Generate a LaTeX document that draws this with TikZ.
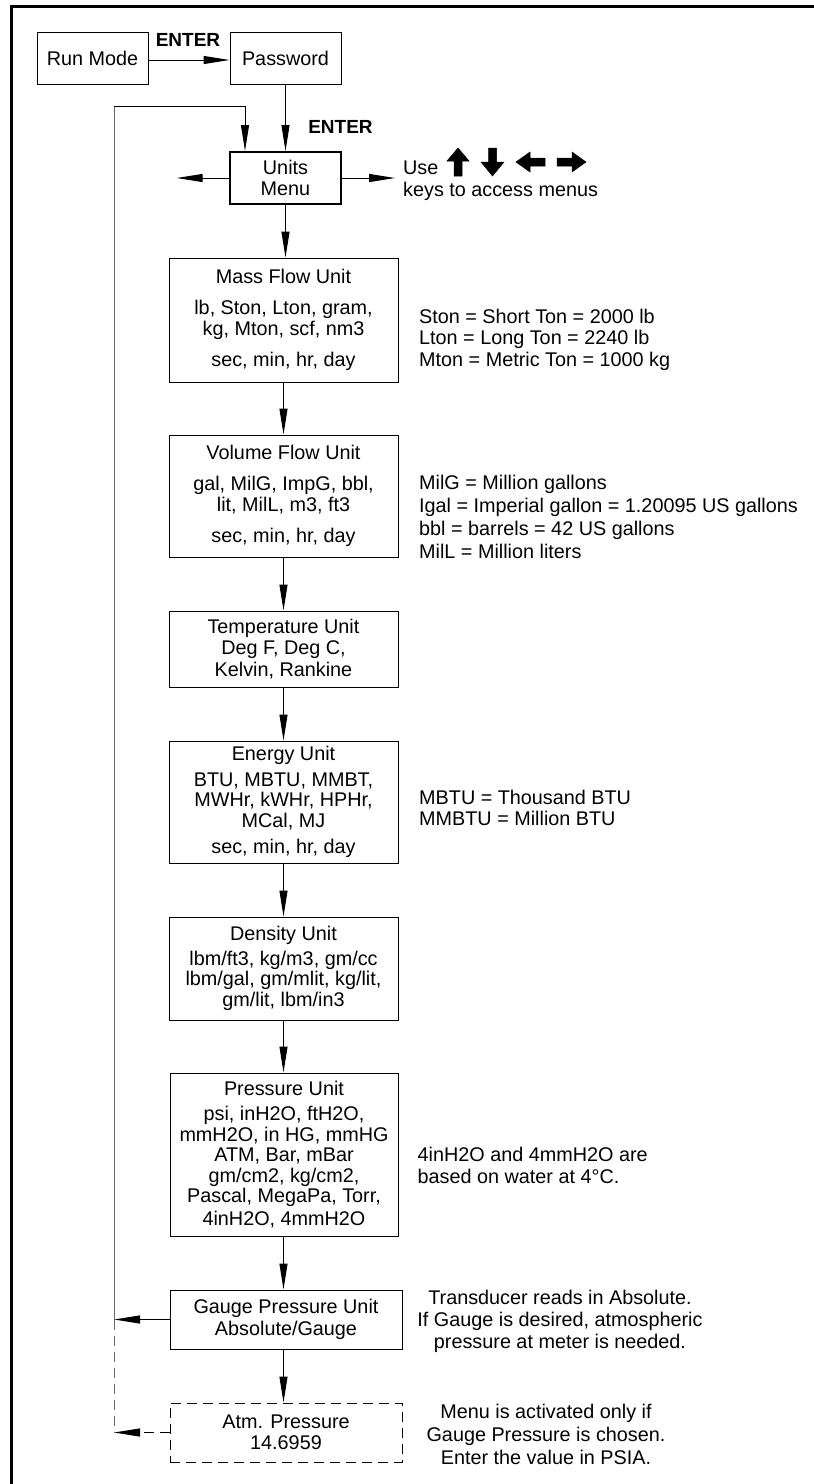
\documentclass[tikz,border=0pt]{standalone}
\usepackage{fontspec}
\setmainfont{Liberation Sans}
\usetikzlibrary{arrows.meta}
\begin{document}
\begin{tikzpicture}[x=1pt,y=-1pt,
  txt/.style={font=\fontsize{19.8}{21.5}\selectfont, inner sep=0pt},
  box/.style={txt, draw, line width=1pt, align=center, minimum width=229pt},
  smallbox/.style={box, minimum width=111pt, minimum height=52pt},
  arr/.style={-{Triangle[length=26pt,width=8pt]}, line width=1pt},
  note/.style={txt, align=left, anchor=west},
  cnote/.style={txt, align=center},
  lbl/.style={font=\fontsize{19}{21}\selectfont\bfseries, inner sep=0pt},
  keyicon/.style={fill=black, draw=black, line width=0.5pt},
  dashpat/.style={dash pattern=on 10pt off 6pt}
]
\useasboundingbox (0,0) rectangle (814,1484);
% frame
\draw[line width=3pt] (11.5,1490) -- (11.5,6) -- (820,6);

% top nodes
\node[smallbox] (run) at (92.5,58) {Run Mode};
\node[smallbox] (pw) at (285.5,58) {Password};
\node[smallbox, line width=2pt, align=center] (units) at (285.5,178) {Units\\Menu};
\node[lbl] (enter1) at (188,40) {ENTER};
\node[lbl] (enter2) at (340.5,127) {ENTER};

% unit boxes
\node[box, minimum height=124pt] (mass) at (283.5,320)
  {Mass Flow Unit\\[9pt] lb, Ston, Lton, gram,\\ kg, Mton, scf, nm3\\[9pt] sec, min, hr, day};
\node[box, minimum height=122pt] (vol) at (283.5,496)
  {Volume Flow Unit\\[9pt] gal, MilG, ImpG, bbl,\\ lit, MilL, m3, ft3\\[9pt] sec, min, hr, day};
\node[box, minimum height=76pt] (temp) at (283.5,649)
  {Temperature Unit\\ Deg F, Deg C,\\ Kelvin, Rankine};
\node[box, minimum height=122pt] (energy) at (283.5,802)
  {Energy Unit\\[4pt] BTU, MBTU, MMBT,\\[-1pt] MWHr, kWHr, HPHr,\\[-1pt] MCal, MJ\\[5pt] sec, min, hr, day};
\node[box, minimum height=103pt] (dens) at (283.5,968.5)
  {Density Unit\\[3pt] lbm/ft3, kg/m3, gm/cc\\[-1pt] lbm/gal, gm/mlit, kg/lit,\\[-1pt] gm/lit, lbm/in3};
\node[box, minimum width=228pt, minimum height=163pt] (pres) at (284,1154.5)
  {Pressure Unit\\[4pt] psi, inH2O, ftH2O,\\[-1pt] mmH2O, in HG, mmHG\\[-1pt] ATM, Bar, mBar\\[-1pt] gm/cm2, kg/cm2,\\[-1pt] Pascal, MegaPa, Torr,\\[1pt] 4inH2O, 4mmH2O};
\node[box, minimum width=232pt, minimum height=59pt] (gauge) at (286,1319.5)
  {Gauge Pressure Unit\\ Absolute/Gauge};
\node[box, dashpat, minimum width=232pt, minimum height=59pt] (atm) at (286,1432.5)
  {Atm. Pressure\\ 14.6959};

% notes
\node[note] (nmass) at (419,339.5)
  {Ston = Short Ton = 2000 lb\\ Lton = Long Ton = 2240 lb\\ Mton = Metric Ton = 1000 kg};
\node[note, font=\fontsize{19.8}{23}\selectfont] (nvol) at (419,517)
  {MilG = Million gallons\\ Igal = Imperial gallon = 1.20095 US gallons\\ bbl = barrels = 42 US gallons\\ MilL = Million liters};
\node[note] (nenergy) at (419,808)
  {MBTU = Thousand BTU\\ MMBTU = Million BTU};
\node[note, font=\fontsize{19.8}{22}\selectfont] (npres) at (417.5,1165)
  {4inH2O and 4mmH2O are\\ based on water at 4°C.};
\node[cnote, font=\fontsize{19.8}{22}\selectfont] (ngauge) at (560,1321)
  {Transducer reads in Absolute.\\ If Gauge is desired, atmospheric\\ pressure at meter is needed.};
\node[cnote, font=\fontsize{19.8}{23}\selectfont] (natm) at (546,1434)
  {Menu is activated only if\\ Gauge Pressure is chosen.\\ Enter the value in PSIA.};

% keys text and icons
\node[txt, anchor=base west] (use) at (403,174) {Use};
\node[txt, anchor=base west] (keys) at (403,196.7) {keys to access menus};
\fill[keyicon] (454,176) -- (454,161) -- (447,161) -- (458,148) -- (469,161) -- (462,161) -- (462,176) -- cycle;
\fill[keyicon] (488.5,148) -- (488.5,162) -- (481,162) -- (492.5,176) -- (504,162) -- (496.5,162) -- (496.5,148) -- cycle;
\fill[keyicon] (545,158) -- (530,158) -- (530,152) -- (516,162) -- (530,172) -- (530,166) -- (545,166) -- cycle;
\fill[keyicon] (557,158) -- (572,158) -- (572,152) -- (586,162) -- (572,172) -- (572,166) -- (557,166) -- cycle;

% coordinates for side arrows and loop
\coordinate (uleft) at (176.7,178);
\coordinate (uright) at (395,178);
\coordinate (ltop) at (114,106);
\coordinate (ltopr) at (245,106);
\coordinate (lgauge) at (114,1319.5);
\coordinate (latm) at (114,1432.5);

% connectors
\draw[arr] ([yshift=-2pt]run.east) -- ([yshift=-2pt]pw.west);
\draw[arr] (pw) -- (units);
\draw[arr] (units.west) -- (uleft);
\draw[arr] (units.east) -- (uright);
\draw[arr] (units.south) -- (units.south |- mass.north);
\draw[arr] (mass) -- (vol);
\draw[arr] (vol) -- (temp);
\draw[arr] (temp) -- (energy);
\draw[arr] (energy) -- (dens);
\draw[arr] (dens) -- (pres.north -| dens.south);
\draw[arr] (pres.south -| dens.south) -- (gauge.north -| dens.south);
\draw[arr] (gauge.south -| dens.south) -- (atm.north -| dens.south);
\draw[arr] (gauge.west) -- (lgauge);
\draw[arr, dashpat] (atm.west) -- (latm);
\draw[line width=1pt, black!60] (lgauge) -- (ltop);
\draw[line width=1pt, dashpat, black!60] (lgauge) -- (latm);
\draw[arr] (ltop) -- (ltopr) -- (ltopr |- units.north);
\end{tikzpicture}
\end{document}
